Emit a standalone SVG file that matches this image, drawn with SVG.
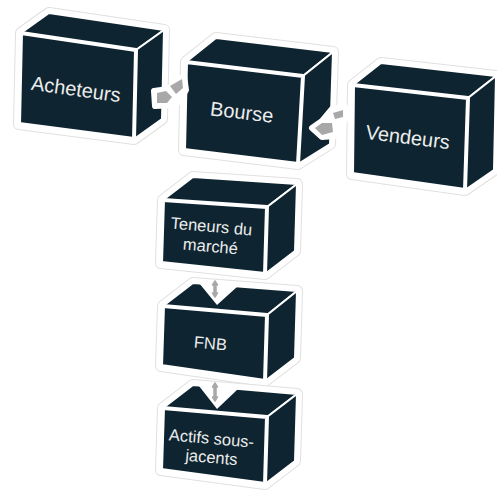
<svg xmlns="http://www.w3.org/2000/svg" width="497" height="490" viewBox="0 0 497 490">
<defs>
<style>
.halo{fill:#fff;stroke:#e0e0e0;stroke-width:12;stroke-linejoin:round}
.halo2{fill:#fff;stroke:#fff;stroke-width:10;stroke-linejoin:round}
.side{fill:#0e2430;stroke:#fff;stroke-width:2;stroke-linejoin:round}
.front{fill:#0e2430;stroke:#fff;stroke-width:4;stroke-linejoin:round}
.lbl{font-family:"Liberation Sans",Arial,sans-serif;fill:#ececec;text-anchor:middle}
.arr{fill:#a8a8a8}
.ahalo{fill:#fff;stroke:#fff;stroke-width:6;stroke-linejoin:round}
</style>
</defs>
<rect width="497" height="490" fill="#fff"/>
<g id="acheteurs">
<polygon class="halo" points="21,33 49,13 164,30 162,119 134,139 19,124"/>
<polygon class="halo2" points="21,33 49,13 164,30 162,119 134,139 19,124"/>
<polygon class="side" points="21,33 49,13 164,30 136,50"/>
<polygon class="side" points="136,50 164,30 162,119 134,139"/>
<polygon class="front" points="21,33 136,50 134,139 19,124"/>
<text class="lbl" font-size="20" transform="translate(75,96) rotate(8)">Acheteurs</text>
</g>
<g id="bourse">
<polygon class="halo" points="186,62 216,38 333,52 330,144 298,164 184,150"/>
<polygon class="halo2" points="186,62 216,38 333,52 330,144 298,164 184,150"/>
<polygon class="side" points="186,62 216,38 333,52 303,76"/>
<polygon class="side" points="303,76 333,52 330,144 298,164"/>
<polygon class="front" points="186,62 303,76 298,164 184,150"/>
<text class="lbl" font-size="20" transform="translate(241,119) rotate(7)">Bourse</text>
</g>
<g id="vendeurs">
<polygon class="halo" points="353,85 381,63 496,76 494,170 465,190 352,174"/>
<polygon class="halo2" points="353,85 381,63 496,76 494,170 465,190 352,174"/>
<polygon class="side" points="353,85 381,63 496,76 468,98"/>
<polygon class="side" points="468,98 496,76 494,170 465,190"/>
<polygon class="front" points="353,85 468,98 465,190 352,174"/>
<text class="lbl" font-size="20" transform="translate(407,144) rotate(7)">Vendeurs</text>
</g>
<g id="teneurs">
<polygon class="halo" points="163,200 193,177 297,184 295,251 265,274 161,263"/>
<polygon class="halo2" points="163,200 193,177 297,184 295,251 265,274 161,263"/>
<polygon class="side" points="163,200 193,177 297,184 267,207"/>
<polygon class="side" points="267,207 297,184 295,251 265,274"/>
<polygon class="front" points="163,200 267,207 265,274 161,263"/>
<text class="lbl" font-size="16.5" transform="translate(211,232) rotate(5)">Teneurs du</text>
<text class="lbl" font-size="16.5" transform="translate(210,252) rotate(5)">marché</text>
</g>
<g id="fnb">
<polygon class="halo" points="163,306 193,283 297,291 295,358 265,381 161,366"/>
<polygon class="halo2" points="163,306 193,283 297,291 295,358 265,381 161,366"/>
<polygon class="side" points="163,306 193,283 297,291 267,315"/>
<polygon fill="#fff" points="199,283 238,286 217,305"/>
<polygon class="side" points="267,315 297,291 295,358 265,381"/>
<polygon class="front" points="163,306 267,315 265,381 161,366"/>
<text class="lbl" font-size="16.5" transform="translate(210,349) rotate(5)">FNB</text>
</g>
<g id="actifs">
<polygon class="halo" points="163,408 193,385 297,394 295,461 265,484 161,470"/>
<polygon class="halo2" points="163,408 193,385 297,394 295,461 265,484 161,470"/>
<polygon class="side" points="163,408 193,385 297,394 267,417"/>
<polygon fill="#fff" points="199,386 238,389 217,409"/>
<polygon class="side" points="267,417 297,394 295,461 265,484"/>
<polygon class="front" points="163,408 267,417 265,484 161,470"/>
<text class="lbl" font-size="16.5" transform="translate(211,444) rotate(5)">Actifs sous-</text>
<text class="lbl" font-size="16.5" transform="translate(211,463) rotate(5)">jacents</text>
</g>
<g id="connectors">
<polygon class="ahalo" points="154,91 168,89 184,76 186,90 176,105 155,106"/>
<polygon class="arr" points="157,93 166,91 172,97 167,103 157,103"/>
<polygon class="arr" points="170,86 182,79 183,88 176,94"/>
<polygon class="ahalo" points="312,128 322,121 332,109 345,107 345,120 335,136 322,137"/>
<polygon class="arr" points="315,128 322,123 332,123 333,132 322,135"/>
<polygon class="arr" points="333,113 343,110 343,117 335,119"/>
<path d="M215,281 L212.5,285 L214,285 L214,293 L212.5,293 L215,297 L217.5,293 L216,293 L216,285 L217.5,285 Z" fill="#a8a8a8" stroke="#a8a8a8" stroke-width="1.5" stroke-linejoin="round"/>
<path d="M215,383 L212.5,387 L214,387 L214,397 L212.5,397 L215,401 L217.5,397 L216,397 L216,387 L217.5,387 Z" fill="#a8a8a8" stroke="#a8a8a8" stroke-width="1.5" stroke-linejoin="round"/>
</g>
</svg>
